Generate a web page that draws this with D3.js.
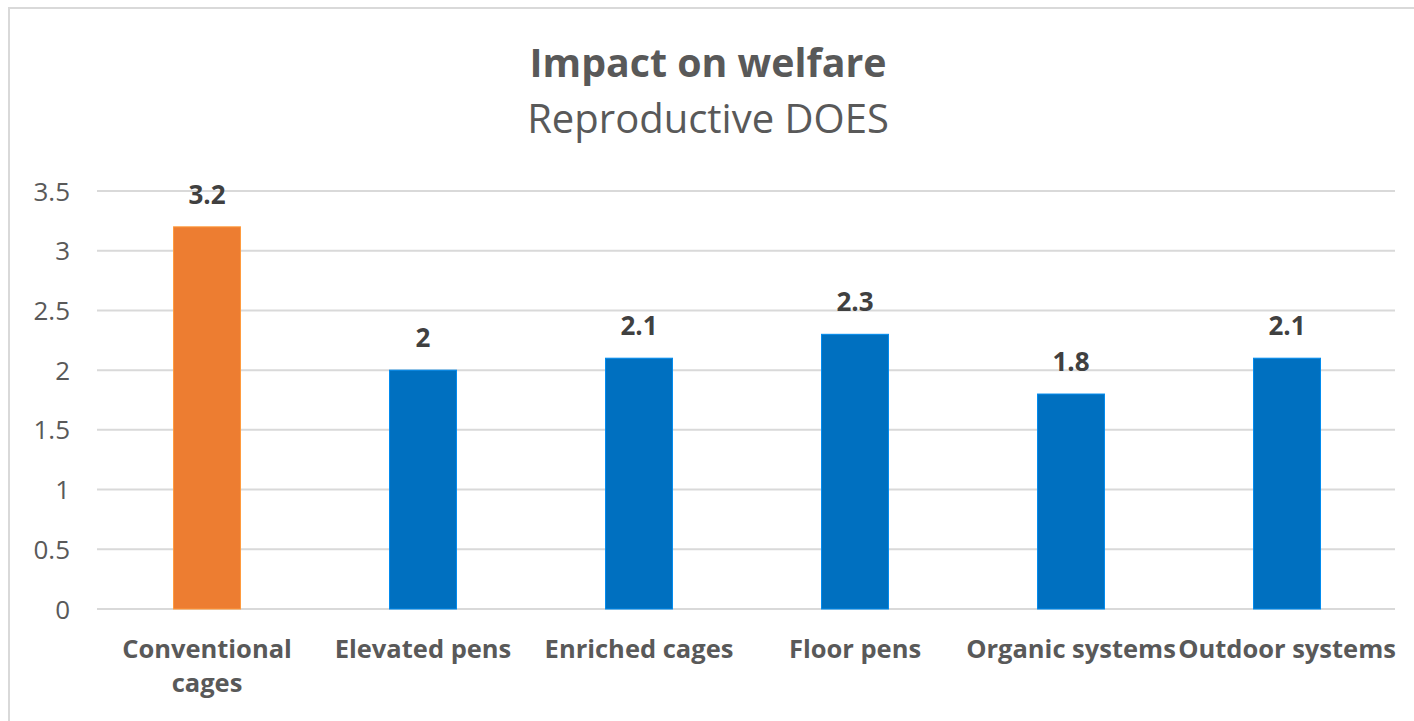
<!DOCTYPE html>
<html>
<head>
<meta charset="utf-8">
<script src="https://cdn.jsdelivr.net/npm/d3@7"></script>
<style>
  html, body { margin: 0; padding: 0; background: #ffffff; }
  svg { display: block; }
</style>
</head>
<body>
<svg id="chart" width="1414" height="721"></svg>
<script>
const categories = ["Conventional cages", "Elevated pens", "Enriched cages", "Floor pens", "Organic systems", "Outdoor systems"];
const categoryLines = [["Conventional", "cages"], ["Elevated pens"], ["Enriched cages"], ["Floor pens"], ["Organic systems"], ["Outdoor systems"]];
const values = [3.2, 2, 2.1, 2.3, 1.8, 2.1];
const barColors = ["#ED7D31", "#0070C0", "#0070C0", "#0070C0", "#0070C0", "#0070C0"];
const yTicks = [0, 0.5, 1, 1.5, 2, 2.5, 3, 3.5];
const title = "Impact on welfare";
const subtitle = "Reproductive DOES";

const FONT = "'Open Sans', 'Noto Sans', sans-serif";
const svg = d3.select("#chart");

// chart area border
svg.append("rect")
  .attr("x", 9).attr("y", 8)
  .attr("width", 1430).attr("height", 740)
  .attr("fill", "#ffffff")
  .attr("stroke", "#d9d9d9").attr("stroke-width", 2);

const x = d3.scaleBand().domain(categories).range([99, 1395]).paddingInner(0.69).paddingOuter(0.345);
const y = d3.scaleLinear().domain([0, 3.5]).range([609, 191]);

// gridlines
svg.append("g").selectAll("line").data(yTicks).join("line")
  .attr("x1", 97).attr("x2", 1395)
  .attr("y1", d => y(d)).attr("y2", d => y(d))
  .attr("stroke", "#d9d9d9").attr("stroke-width", 2);

// y axis labels
const yAxis = d3.axisLeft(y).tickValues(yTicks).tickSize(0).tickPadding(0).tickFormat(d => String(d));
const yg = svg.append("g").attr("transform", "translate(70,0)").call(yAxis);
yg.select(".domain").remove();
yg.selectAll("text")
  .attr("font-family", FONT).attr("font-size", 26).attr("fill", "#595959")
  .attr("dy", "0.35em");

// bars
svg.append("g").selectAll("rect").data(values).join("rect")
  .attr("x", (d, i) => x(categories[i]))
  .attr("y", d => y(d))
  .attr("width", x.bandwidth())
  .attr("height", d => y(0) - y(d))
  .attr("fill", (d, i) => barColors[i])
  .attr("stroke", (d, i) => d3.color(barColors[i]).brighter(0.6))
  .attr("stroke-width", 1);

// data labels
svg.append("g").selectAll("text").data(values).join("text")
  .attr("x", (d, i) => x(categories[i]) + x.bandwidth() / 2)
  .attr("y", d => y(d) - 23)
  .attr("text-anchor", "middle")
  .attr("font-family", FONT).attr("font-size", 26).attr("font-weight", "bold")
  .attr("fill", "#404040")
  .text(d => String(d));

// category labels
const cl = svg.append("g").selectAll("text").data(categories).join("text")
  .attr("text-anchor", "middle")
  .attr("font-family", FONT).attr("font-size", 25.5).attr("font-weight", "bold")
  .attr("fill", "#595959");
cl.each(function(d, i) {
  const t = d3.select(this);
  categoryLines[i].forEach((line, j) => {
    t.append("tspan")
      .attr("x", x(d) + x.bandwidth() / 2)
      .attr("y", 658 + j * 34)
      .text(line);
  });
});

// titles
svg.append("text")
  .attr("x", 708).attr("y", 77)
  .attr("text-anchor", "middle")
  .attr("font-family", FONT).attr("font-size", 39.3).attr("font-weight", "bold")
  .attr("fill", "#595959")
  .text(title);
svg.append("text")
  .attr("x", 708).attr("y", 133)
  .attr("text-anchor", "middle")
  .attr("font-family", FONT).attr("font-size", 40)
  .attr("fill", "#595959")
  .text(subtitle);
</script>
</body>
</html>
